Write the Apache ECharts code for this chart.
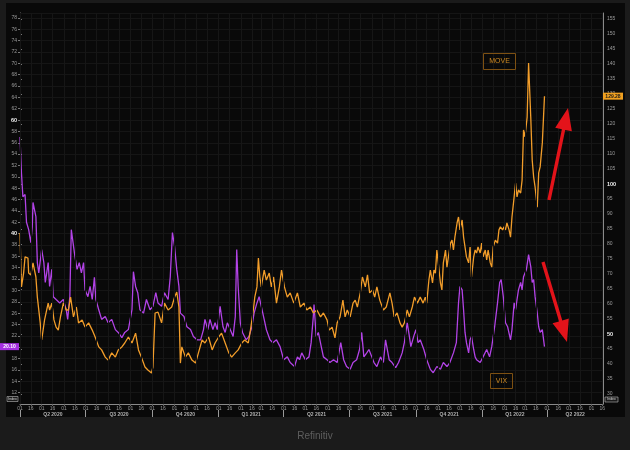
<!DOCTYPE html>
<html><head><meta charset="utf-8">
<script src="https://cdn.jsdelivr.net/npm/echarts@6/dist/echarts.min.js"></script>
<style>html,body{margin:0;padding:0;background:#1b1b1b}#c{width:630px;height:450px}</style>
</head><body><div id="c"></div><script>
// ---- data (days counted from the start date, 2020-04-01) ----
const startDate = [2020, 3, 1];
const axisEndDate = [2022, 5, 17];
const vixDays = [0,2,4,7,9,12,15,17,18,22,24,26,30,33,35,39,41,44,46,50,55,60,64,66,69,71,76,79,82,85,88,90,94,97,100,103,105,109,113,118,122,127,132,136,141,145,150,155,157,160,163,166,171,175,180,184,188,191,196,200,205,208,211,214,217,220,222,227,231,236,240,245,250,254,256,260,263,267,270,273,277,281,284,287,291,295,298,300,302,305,308,313,317,321,324,328,331,334,338,341,346,350,355,360,365,370,374,380,384,387,390,395,400,403,406,407,410,413,417,420,425,429,434,439,444,448,452,457,461,466,470,473,476,480,483,487,490,494,499,503,506,511,515,520,524,529,532,536,539,541,545,548,551,554,559,563,568,572,577,582,586,591,595,600,604,607,609,612,614,616,618,621,623,625,628,630,632,637,641,646,650,653,657,661,664,666,669,672,675,679,681,684,686,688,690,693,695,697,701,704,707,709,711,713,716,718,720,723,726];
const vixValues = [57,50.7,46.5,46.9,42,40.7,38.4,41.2,45.5,43,34.9,33.1,37.2,34.9,31.4,34.9,30.7,33.7,28.9,28.4,27.8,28.4,26.6,24.9,28.9,40.7,36,33.7,34.9,33.1,34.9,30.1,28.9,30.7,28.4,32.3,28.4,26.6,24.9,25.4,24.3,24.9,23.1,22.6,21.7,22.6,23.1,26.6,33.3,30.7,29.6,26.6,26,28.4,26.6,27.2,29.6,27.8,27.2,29.6,28.4,32.4,40.2,37.7,33.7,30.7,26,25.4,23.6,23.1,21.9,21.3,21.3,23.1,24.9,23.1,24.9,23.1,24.3,23.1,27.2,23.6,22.6,24.3,23.1,21.9,25.4,37.2,30.7,24.3,22.6,21.3,21.9,23.6,26,27.8,28.9,27.2,24.9,23.1,21.3,20.8,21.3,20.1,17.8,18.3,17.3,16.6,18.3,17.8,19,17.8,18.3,20.8,25.4,27.5,21.9,22.6,20.1,18.3,17.8,17.3,17.8,17.3,20.8,17.8,16.6,16.1,17.3,17.8,19.6,22.6,18.3,19,19.6,18.3,17.3,16.6,18.3,17.3,21.3,17.8,17.3,16.4,17.3,19,20.8,24.3,21.9,20.1,21.9,23.1,20.8,21.3,19.6,17.8,16.1,15.5,16.6,16.1,17.3,16.6,17.3,19,20.8,27.8,30.7,30.1,26.6,22.6,20.8,19,21.3,21.9,19.6,18.3,17.8,17.3,18.3,19.6,18.3,20.1,23.6,27.8,31.4,31.9,28.9,24.3,23.6,21.3,23.1,27.8,26.6,28.4,30.1,31.4,30.1,32.4,33.7,36.3,34.2,31.4,31.9,28.9,26,23.6,22.6,23.1,20.1];
const moveDays = [0,2,5,7,11,12,15,18,22,24,28,30,34,39,41,44,47,50,53,56,60,64,67,70,74,78,81,86,90,95,100,104,109,113,118,122,127,132,136,141,145,150,155,160,164,168,173,177,182,184,187,191,196,200,205,210,214,217,220,222,224,229,233,238,243,247,252,256,261,266,270,275,279,284,289,293,298,302,307,311,316,319,323,325,328,330,332,334,338,341,345,348,351,355,359,362,366,370,374,379,384,388,393,397,402,406,411,416,420,425,428,432,436,439,443,447,450,453,457,461,464,467,471,474,478,481,484,488,491,494,498,503,507,512,515,518,522,526,529,532,536,539,543,546,550,554,558,561,563,566,568,571,573,575,577,579,582,584,586,589,591,593,596,598,600,602,605,607,609,612,614,616,618,621,623,625,628,630,632,634,637,639,641,644,646,648,651,653,655,658,661,663,665,668,670,672,674,677,679,681,684,686,688,690,693,695,697,699,702,704,707,709,711,713,716,718,720,723,726];
const moveValues = [83.7,65.7,70.3,75.7,75.3,70.3,69.7,73.7,69,62.3,53.7,48,54.7,60.3,58,60.3,54.7,52.3,51.3,55.7,60.3,58,58,62.3,55.7,59,53.7,54.7,52.3,53.7,51.3,49,45.7,44.7,42.3,41.3,43.7,42.3,44.7,45.7,47,49,47,50.3,44.7,42.3,39,38,37,39,57,57.3,53.7,60.3,58,59,62.3,64,59,40.3,45.7,42.3,43.7,41.3,40.3,43.7,48,47,49,44.7,47,49,50.3,47,43.7,42.3,43.7,44.7,47,48,47,51.3,58,62.3,65.7,75.3,69,65.7,71.3,68,70.3,65.7,69,60.3,65.7,71.3,65.7,62.3,63.7,60.3,63.7,59,60.3,58,59,57,58,55.7,57,54.7,51.3,52.3,48.7,53.7,55.7,61.3,55.7,58,55.7,60.3,61.3,59,63.7,69,65.7,69.7,63.7,64.7,62.3,65.7,61.3,58,59,63.7,60.3,55.7,57,53.7,52.3,53.7,58,55.7,59,62.3,60.3,62.3,60.3,62.3,60.3,68,71.3,67,71.3,70.3,78,73.7,67,64.7,73.7,78,72.3,75.7,80.3,81.3,78,82.3,87,89,84.7,88,82.3,79,75.7,73.7,79,69,75.7,78,77,79,77,80.3,75.7,78,74.7,78,73.7,72.3,79,81.3,80.3,84.7,85.7,84.7,85.7,84.7,87,84.7,82.3,89,95.7,100.3,95.7,98,97,101.3,118,115.7,122.3,140.3,122.3,108,102.3,99,92.3,103.7,105.7,113.7,129.28];
const quarterLabels = ['Q2 2020','Q3 2020','Q4 2020','Q1 2021','Q2 2021','Q3 2021','Q4 2021','Q1 2022','Q2 2022'];
const dayTickDates = [1, 16];
const vixBoldTicks = [40, 60];
const moveBoldTicks = [50, 100];

const DAY = 86400000;
const t0 = Date.UTC(startDate[0], startDate[1], startDate[2]);
const toDay = (y, m, d) => Math.round((Date.UTC(y, m, d) - t0) / DAY);
const maxDay = toDay(axisEndDate[0], axisEndDate[1], axisEndDate[2]);
const dayToDate = d => new Date(t0 + Math.round(d) * DAY);
const vixData = vixDays.map((d, i) => [d, vixValues[i]]);
const moveData = moveDays.map((d, i) => [d, moveValues[i]]);

// half-month ticks (days since start)
const tickDays = [];
for (let y = 2020; y <= 2022; y++) for (let m = 0; m < 12; m++) for (const dd of dayTickDates) {
  const d = toDay(y, m, dd);
  if (d >= 0 && d <= maxDay) tickDays.push(d);
}
// quarter starts and mids
const qStarts = [], qMids = [];
for (let i = 0; i < quarterLabels.length; i++) {
  const s = toDay(2020, 3 + 3 * i, 1);
  const e = Math.min(toDay(2020, 6 + 3 * i, 1), maxDay);
  qStarts.push(s); qMids.push((s + e) / 2);
}
const quarterLabelFor = v => { let k = 0, best = Infinity; qMids.forEach((q, i) => { const dd = Math.abs(q - v); if (dd < best) { best = dd; k = i; } }); return quarterLabels[k]; };

const FONT = 'Liberation Sans, Arial, sans-serif';
const lblColor = '#9a9a9a';
const VIX_COLOR = '#b243e6';
const MOVE_COLOR = '#f29d2a';

const chart = echarts.init(document.getElementById('c'));
chart.setOption({
  backgroundColor: '#1b1b1b',
  animation: false,
  grid: [
    {left: 20, right: 27, top: 13, bottom: 46},
    {left: 20, right: 27, top: 13, bottom: 41}
  ],
  xAxis: [
    {type: 'value', gridIndex: 0, min: 0, max: maxDay,
     axisLine: {show: true, onZero: false, lineStyle: {color: '#8a8a8a', width: 1}},
     axisTick: {show: true, customValues: tickDays, length: 2, lineStyle: {color: '#666'}},
     axisLabel: {customValues: tickDays, fontSize: 5, color: lblColor, margin: 2, fontFamily: FONT,
       formatter: v => String(dayToDate(v).getUTCDate()).padStart(2, '0')},
     splitLine: {show: false}},
    {type: 'value', gridIndex: 0, min: 0, max: maxDay, position: 'bottom', offset: 6,
     axisLine: {show: false, onZero: false},
     axisTick: {show: true, customValues: qStarts, length: 7, lineStyle: {color: '#9a9a9a'}},
     axisLabel: {customValues: qMids, fontSize: 5, color: '#b0b0b0', margin: 2, fontFamily: FONT, fontWeight: 'bold',
       formatter: v => quarterLabelFor(v)},
     splitLine: {show: false}},
    {type: 'value', gridIndex: 1, min: 0, max: maxDay, show: false}
  ],
  yAxis: [
    {type: 'value', gridIndex: 0, position: 'left', min: 10, max: 78.85, interval: 2,
     axisLine: {show: true, onZero: false, lineStyle: {color: '#8a8a8a'}},
     axisTick: {show: true, length: 2, lineStyle: {color: '#777'}},
     axisLabel: {showMinLabel: false, showMaxLabel: false, fontSize: 5, color: lblColor, margin: 3, fontFamily: FONT,
       formatter: v => vixBoldTicks.includes(v) ? '{b|' + v + '}' : String(v),
       rich: {b: {color: '#f0f0f0', fontWeight: 'bold', fontSize: 5.5, fontFamily: FONT}}},
     splitLine: {show: true, lineStyle: {color: '#151515', width: 1}}},
    {type: 'value', gridIndex: 1, position: 'right', min: 25, max: 157, interval: 5,
     axisLine: {show: false},
     axisTick: {show: true, length: 2, lineStyle: {color: '#777'}},
     axisLabel: {showMinLabel: false, showMaxLabel: false, fontSize: 5, color: lblColor, margin: 4, fontFamily: FONT,
       formatter: v => moveBoldTicks.includes(v) ? '{b|' + v + '}' : String(v),
       rich: {b: {color: '#f0f0f0', fontWeight: 'bold', fontSize: 5.5, fontFamily: FONT}}},
     splitLine: {show: false}},
    {type: 'value', gridIndex: 0, position: 'right', min: 10, max: 78.85,
     axisLine: {show: true, onZero: false, lineStyle: {color: '#8a8a8a'}},
     axisTick: {show: false}, axisLabel: {show: false}, splitLine: {show: false}}
  ],
  series: [
    {name: 'VIX', type: 'line', xAxisIndex: 0, yAxisIndex: 0, data: vixData, showSymbol: false,
     lineStyle: {color: VIX_COLOR, width: 1.3}, z: 3,
     markLine: {silent: true, symbol: 'none', label: {show: false},
       lineStyle: {color: '#161616', width: 1, type: 'solid'},
       data: tickDays.map(d => ({xAxis: d}))}},
    {name: 'MOVE', type: 'line', xAxisIndex: 2, yAxisIndex: 1, data: moveData, showSymbol: false,
     lineStyle: {color: MOVE_COLOR, width: 1.3}, z: 4}
  ]
});

// annotations
function arrowPoints(x1, y1, x2, y2) {
  const dx = x2 - x1, dy = y2 - y1, L = Math.hypot(dx, dy);
  const ux = dx / L, uy = dy / L, px = -uy, py = ux;
  const hl = 22, hw = 8.5, sw = 1.7;
  const bx = x2 - ux * hl, by = y2 - uy * hl;
  return [[x1 + px * sw, y1 + py * sw], [bx + px * sw, by + py * sw], [bx + px * hw, by + py * hw], [x2, y2],
          [bx - px * hw, by - py * hw], [bx - px * sw, by - py * sw], [x1 - px * sw, y1 - py * sw]];
}
const lastVix = vixValues[vixValues.length - 1];
const lastMove = moveValues[moveValues.length - 1];
const yVix = chart.convertToPixel({yAxisIndex: 0}, lastVix);
const yMove = chart.convertToPixel({yAxisIndex: 1}, lastMove);

chart.setOption({
  graphic: [
    {type: 'rect', z: -10, silent: true, shape: {x: 6, y: 3, width: 619, height: 414}, style: {fill: '#090909'}},
    {type: 'polygon', z: 10, shape: {points: arrowPoints(549, 200, 568, 108)}, style: {fill: '#e3131a'}},
    {type: 'polygon', z: 10, shape: {points: arrowPoints(543, 262, 567, 342)}, style: {fill: '#e3131a'}},
    {type: 'rect', z: 10, shape: {x: 483.5, y: 53.5, width: 32, height: 16}, style: {fill: 'transparent', stroke: '#7d5012', lineWidth: 1}},
    {type: 'text', z: 11, x: 499.5, y: 61.5, style: {text: 'MOVE', fill: '#cf8a22', font: '7px ' + FONT, align: 'center', verticalAlign: 'middle'}},
    {type: 'rect', z: 10, shape: {x: 490.5, y: 373.5, width: 22, height: 15}, style: {fill: 'transparent', stroke: '#7d5012', lineWidth: 1}},
    {type: 'text', z: 11, x: 501.5, y: 381, style: {text: 'VIX', fill: '#cf8a22', font: '7px ' + FONT, align: 'center', verticalAlign: 'middle'}},
    {type: 'rect', z: 10, shape: {x: 0, y: yVix - 3.5, width: 19, height: 7}, style: {fill: '#a52fe0'}},
    {type: 'text', z: 11, x: 9.5, y: yVix, style: {text: lastVix.toFixed(2), fill: '#ffffff', font: 'bold 5px ' + FONT, align: 'center', verticalAlign: 'middle'}},
    {type: 'rect', z: 10, shape: {x: 603, y: yMove - 3.5, width: 20, height: 7}, style: {fill: '#f0a020'}},
    {type: 'text', z: 11, x: 613, y: yMove, style: {text: lastMove.toFixed(2), fill: '#1a1a1a', font: 'bold 5px ' + FONT, align: 'center', verticalAlign: 'middle'}},
    {type: 'rect', z: 10, shape: {x: 7, y: 396.5, width: 11, height: 5}, style: {fill: '#1a1a1a', stroke: '#bbbbbb', lineWidth: 0.6}},
    {type: 'text', z: 11, x: 12.5, y: 399, style: {text: 'Index', fill: '#dddddd', font: '3.5px ' + FONT, align: 'center', verticalAlign: 'middle'}},
    {type: 'rect', z: 10, shape: {x: 605, y: 397, width: 13, height: 5}, style: {fill: '#1a1a1a', stroke: '#bbbbbb', lineWidth: 0.6}},
    {type: 'text', z: 11, x: 611.5, y: 399.5, style: {text: 'Index', fill: '#dddddd', font: '3.5px ' + FONT, align: 'center', verticalAlign: 'middle'}},
    {type: 'text', z: 11, x: 315, y: 436, style: {text: 'Refinitiv', fill: '#5e5e5e', font: '10px ' + FONT, align: 'center', verticalAlign: 'middle'}}
  ]
});
</script></body></html>
